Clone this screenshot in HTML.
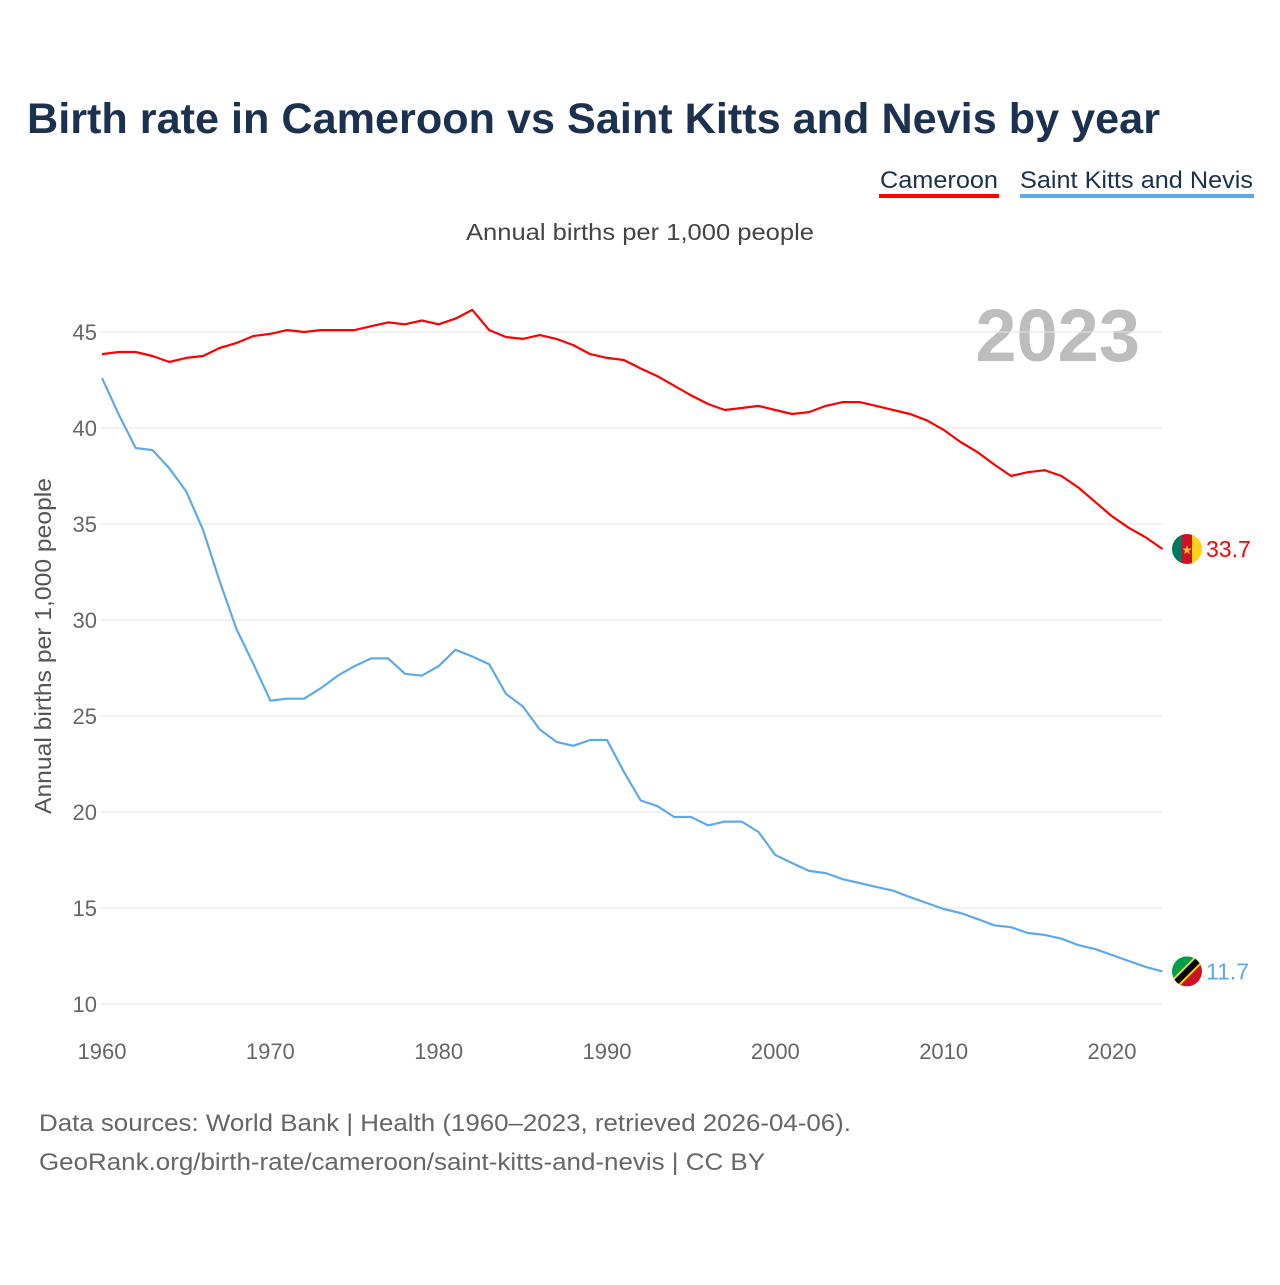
<!DOCTYPE html>
<html><head><meta charset="utf-8">
<style>
body{margin:0;background:#fff;width:1280px;height:1280px;overflow:hidden;font-family:"Liberation Sans",sans-serif}
</style></head>
<body>
<svg id="chart" width="1280" height="1280" xmlns="http://www.w3.org/2000/svg" font-family="Liberation Sans, sans-serif">
<rect width="1280" height="1280" fill="#fff"/>
<text x="27" y="133" font-size="43" font-weight="bold" fill="#1c3150" textLength="1133" lengthAdjust="spacingAndGlyphs">Birth rate in Cameroon vs Saint Kitts and Nevis by year</text>
<g>
<text x="880" y="188" font-size="24" fill="#1c3150" textLength="118" lengthAdjust="spacingAndGlyphs">Cameroon</text>
<rect x="879" y="194" width="120" height="4" fill="#ff0000"/></g>
<g>
<text x="1020" y="188" font-size="24" fill="#1c3150" textLength="233" lengthAdjust="spacingAndGlyphs">Saint Kitts and Nevis</text>
<rect x="1020" y="194" width="234" height="4" fill="#5ea9ec"/></g>
<text x="466" y="240" font-size="23" fill="#444" textLength="348" lengthAdjust="spacingAndGlyphs">Annual births per 1,000 people</text>
<text x="1140" y="361" font-size="74" font-weight="bold" fill="#bdbdbd" text-anchor="end">2023</text>
<text transform="translate(51,814) rotate(-90)" font-size="23" fill="#555" textLength="336" lengthAdjust="spacingAndGlyphs">Annual births per 1,000 people</text>
<g id="grid"></g><g id="series"></g><g id="ends"></g>
<text x="39" y="1131" font-size="24" fill="#666" textLength="812" lengthAdjust="spacingAndGlyphs">Data sources: World Bank | Health (1960–2023, retrieved 2026-04-06).</text>
<text x="39" y="1170" font-size="24" fill="#666" textLength="726" lengthAdjust="spacingAndGlyphs">GeoRank.org/birth-rate/cameroon/saint-kitts-and-nevis | CC BY</text>
</svg>
<script>
const years=[];for(let y=1960;y<=2023;y++)years.push(y);
const cameroon=[43.85,43.96,43.96,43.75,43.44,43.65,43.75,44.17,44.43,44.79,44.9,45.1,45.0,45.1,45.1,45.1,45.3,45.5,45.4,45.6,45.4,45.7,46.15,45.1,44.74,44.64,44.84,44.64,44.32,43.85,43.65,43.54,43.1,42.7,42.2,41.7,41.25,40.94,41.04,41.15,40.94,40.73,40.83,41.15,41.35,41.35,41.15,40.94,40.73,40.4,39.9,39.27,38.75,38.1,37.5,37.7,37.8,37.5,36.9,36.15,35.4,34.8,34.3,33.7];
const skn=[42.6,40.7,38.96,38.85,37.9,36.7,34.7,32.0,29.5,27.7,25.8,25.9,25.9,26.45,27.1,27.6,28.0,28.0,27.2,27.1,27.6,28.45,28.1,27.7,26.15,25.5,24.3,23.65,23.45,23.75,23.75,22.1,20.6,20.3,19.74,19.74,19.3,19.5,19.5,18.96,17.76,17.34,16.93,16.82,16.5,16.3,16.1,15.9,15.57,15.26,14.95,14.74,14.43,14.1,14.0,13.7,13.6,13.4,13.07,12.86,12.55,12.24,11.93,11.7];
const yTicks=[10,15,20,25,30,35,40,45];
const xTicks=[1960,1970,1980,1990,2000,2010,2020];
const NS="http://www.w3.org/2000/svg";
const xs=y=>102+(y-1960)*(1010/60);
const ys=v=>1004-(v-10)*19.2;
function mk(t,a,p){const e=document.createElementNS(NS,t);for(const k in a)e.setAttribute(k,a[k]);p.appendChild(e);return e;}
const grid=document.getElementById('grid');
yTicks.forEach(v=>{
 const l=mk('line',{x1:100,x2:1162,y1:ys(v),y2:ys(v),stroke:'#e6e6e6','stroke-width':1},grid);
 
 
 const t=mk('text',{x:97,y:ys(v)+8,'font-size':22,fill:'#666','text-anchor':'end'},grid);t.textContent=v;
 
 
});
xTicks.forEach(v=>{
 const t=mk('text',{x:xs(v),y:1059,'font-size':22,fill:'#666','text-anchor':'middle'},grid);t.textContent=v;
 
 
});
const ser=document.getElementById('series');
function line(data,col,name){
 const p=mk('path',{d:data.map((v,i)=>(i?'L':'M')+xs(years[i]).toFixed(1)+','+ys(v).toFixed(1)).join(''),fill:'none',stroke:col,'stroke-width':2.2,'stroke-linejoin':'round'},ser);
 
 
}
line(cameroon,'#ff0000','cameroon-line');
line(skn,'#5ea9ec','saint-kitts-line');
const ends=document.getElementById('ends');
function endLabel(data,col,name,flag){
 const v=data[data.length-1],cy=ys(v),cx=1187;
 const g=mk('g',{},ends);
 
 
 const clip=mk('clipPath',{id:'c'+name},g);
 mk('circle',{cx:cx,cy:cy,r:15},clip);
 const fg=mk('g',{'clip-path':'url(#c'+name+')'},g);
 flag(fg,cx,cy);
 const t=mk('text',{x:1206,y:cy+8,'font-size':23,fill:col},g);t.textContent=v.toFixed(1);
}
endLabel(cameroon,'#ff0000','cameroon',(g,cx,cy)=>{
 mk('rect',{x:cx-15,y:cy-15,width:10,height:30,fill:'#007a5e'},g);
 mk('rect',{x:cx-5,y:cy-15,width:10,height:30,fill:'#ce1126'},g);
 mk('rect',{x:cx+5,y:cy-15,width:10,height:30,fill:'#fcd116'},g);
 mk('text',{x:cx,y:cy+5,'font-size':12,fill:'#fcd116','text-anchor':'middle'},g).textContent='★';
});
endLabel(skn,'#5ea9ec','saint-kitts',(g,cx,cy)=>{
 mk('polygon',{points:`${cx-15},${cy-15} ${cx+15},${cy-15} ${cx-15},${cy+15}`,fill:'#009e49'},g);
 mk('polygon',{points:`${cx+15},${cy-15} ${cx+15},${cy+15} ${cx-15},${cy+15}`,fill:'#ce1126'},g);
 mk('line',{x1:cx-15,y1:cy+15,x2:cx+15,y2:cy-15,stroke:'#fcd116','stroke-width':10},g);
 mk('line',{x1:cx-15,y1:cy+15,x2:cx+15,y2:cy-15,stroke:'#000','stroke-width':6},g);
});
</script>
</body></html>
